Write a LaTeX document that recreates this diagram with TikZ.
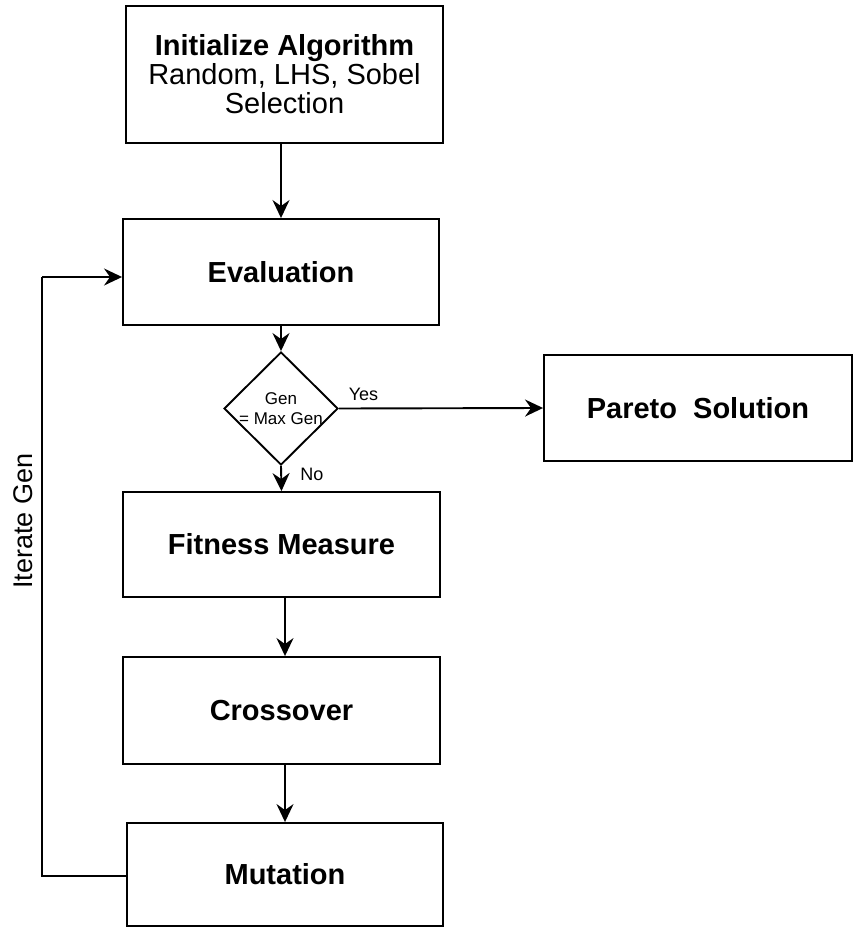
\documentclass[tikz,border=0pt]{standalone}
\usepackage{fontspec}
\setmainfont{Liberation Sans}
\usetikzlibrary{arrows.meta,shapes.geometric}
\begin{document}
\begin{tikzpicture}[x=1pt,y=-1pt,
  box/.style={draw, line width=1.9pt, inner sep=0pt, align=center},
  arr/.style={line width=1.9pt, -{Stealth[length=18pt,width=17pt,inset=6pt]}},
  link/.style={line width=1.9pt},
  ttl/.style={font=\fontsize{29}{32}\selectfont\bfseries},
  small/.style={font=\fontsize{17}{20}\selectfont},
  lbl/.style={font=\fontsize{18}{21}\selectfont}]
\useasboundingbox (0,0) rectangle (852,928);
\node[box, font=\fontsize{29}{29}\selectfont, minimum width=317pt, minimum height=137pt] (init) at (284.5,74.5)
  {\textbf{Initialize Algorithm}\\ Random, LHS, Sobel\\ Selection};
\node[box, ttl, minimum width=316pt, minimum height=106pt] (eval) at (281,272) {Evaluation};
\node[draw, line width=1.9pt, diamond, inner sep=0pt, minimum width=114pt, minimum height=113pt,
  label={[small, align=center]center:Gen\\= Max Gen}] (dec) at (281,408.5) {};
\node[box, ttl, minimum width=308pt, minimum height=106pt] (par) at (698,408) {Pareto\ \ Solution};
\node[box, ttl, minimum width=317pt, minimum height=105pt] (fit) at (281.5,544.5) {Fitness Measure};
\node[box, ttl, minimum width=317pt, minimum height=107pt] (cross) at (281.5,710.5) {Crossover};
\node[box, ttl, minimum width=316pt, minimum height=103pt] (mut) at (285,874.5) {Mutation};
\coordinate (lb) at (42,876);
\coordinate (lt) at (42,277);
% main flow
\draw[arr] (init.south -| eval.north) -- (eval.north);
\draw[arr] (eval.south) -- (dec.north);
\draw[arr] (dec.east) -- node[pos=0.12, above=3pt, lbl] (yes) {Yes} (par.west);
\draw[arr] (dec.south) -- node[pos=0.35, right=15pt, lbl] (no) {No} (fit.north);
\draw[arr] (fit.south -| mut.north) -- (cross.north -| mut.north);
\draw[arr] (cross.south -| mut.north) -- (mut.north);
% iteration loop
\draw[link] (mut.west |- lb) -- (lb) -- (lt);
\draw[arr] (lt) -- (eval.west |- lt);
\node[rotate=90, font=\fontsize{27}{30}\selectfont] (iter) at (23,521) {Iterate Gen};
\end{tikzpicture}
\end{document}
